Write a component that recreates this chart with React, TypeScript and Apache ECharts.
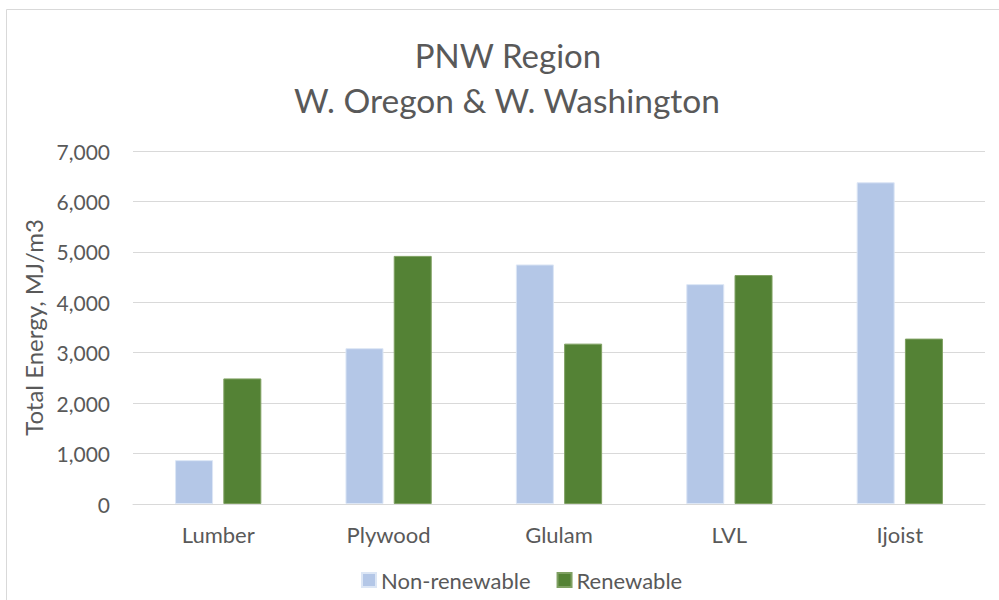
import React, { useEffect, useRef } from "react";
import * as echarts from "echarts";

const categories = ["Lumber", "Plywood", "Glulam", "LVL", "Ijoist"];
const nonRenewable = [870, 3090, 4750, 4360, 6380];
const renewable = [2490, 4920, 3180, 4540, 3280];
const titleLines = ["PNW Region", "W. Oregon & W. Washington"];
const yAxisName = "Total Energy, MJ/m3";
const seriesNames = ["Non-renewable", "Renewable"];

const FONT = "Lato, 'Open Sans', sans-serif";
const TEXT = "#595959";

export default function App() {
  const ref = useRef<HTMLDivElement>(null);
  useEffect(() => {
    if (!ref.current) return;
    const chart = echarts.init(ref.current, null, { renderer: "svg" });
    chart.setOption({
      animation: false,
      backgroundColor: "#fff",
      textStyle: { fontFamily: FONT },
      graphic: [
        {
          type: "rect",
          shape: { x: 6.5, y: 9.5, width: 1200, height: 800 },
          style: { fill: "none", stroke: "#D9D9D9", lineWidth: 1 },
          silent: true,
          z: -1,
        },
        {
          type: "text",
          x: 508,
          y: 55,
          style: {
            text: titleLines[0],
            fontFamily: FONT,
            fontSize: 33,
            fill: TEXT,
            textAlign: "center",
            textVerticalAlign: "middle",
          },
        },
        {
          type: "text",
          x: 507,
          y: 100,
          style: {
            text: titleLines[1],
            fontFamily: FONT,
            fontSize: 33.5,
            fill: TEXT,
            textAlign: "center",
            textVerticalAlign: "middle",
          },
        },
      ],
      legend: {
        left: 356,
        top: 564,
        itemWidth: 14,
        itemHeight: 14,
        itemGap: 26,
        icon: "rect",
        textStyle: { fontFamily: FONT, fontSize: 22, color: TEXT },
        data: seriesNames,
      },
      grid: { left: 133, right: 14, top: 151, bottom: 96, containLabel: false },
      xAxis: {
        type: "category",
        data: categories,
        axisTick: { show: false },
        axisLine: { lineStyle: { color: "#D9D9D9", width: 1 } },
        axisLabel: { color: TEXT, fontSize: 22, fontFamily: FONT, margin: 19 },
      },
      yAxis: {
        type: "value",
        min: 0,
        max: 7000,
        interval: 1000,
        name: yAxisName,
        nameLocation: "middle",
        nameRotate: 90,
        nameGap: 87,
        nameTextStyle: { color: TEXT, fontSize: 24, fontFamily: FONT },
        axisLine: { show: false },
        axisTick: { show: false },
        splitLine: { lineStyle: { color: "#D9D9D9", width: 1 } },
        axisLabel: {
          color: TEXT,
          fontSize: 21,
          fontFamily: FONT,
          margin: 23,
          formatter: (v: number) => v.toLocaleString("en-US"),
        },
      },
      series: [
        {
          name: seriesNames[0],
          type: "bar",
          data: nonRenewable,
          barWidth: 38,
          barGap: "27%",
          itemStyle: { color: "#B4C7E7", borderColor: "#DCE6F5", borderWidth: 1 },
        },
        {
          name: seriesNames[1],
          type: "bar",
          data: renewable,
          barWidth: 38,
          itemStyle: { color: "#548235", borderColor: "#7FA062", borderWidth: 1 },
        },
      ],
    });
    return () => chart.dispose();
  }, []);
  return <div ref={ref} style={{ width: 999, height: 600, position: "absolute", left: 0, top: 0 }} />;
}
